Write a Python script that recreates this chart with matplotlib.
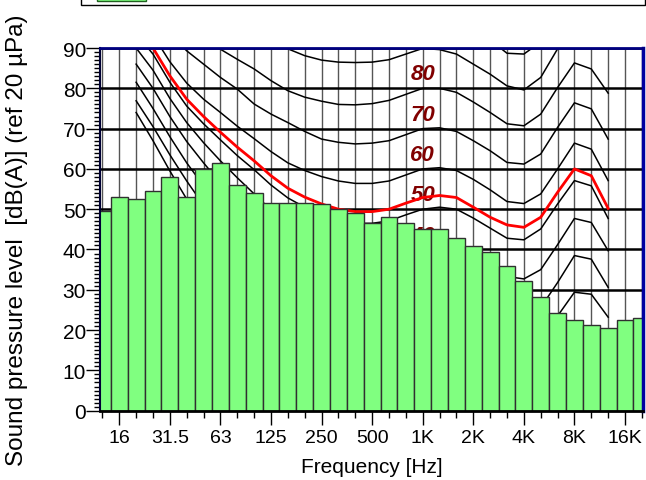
import numpy as np
import matplotlib
matplotlib.use('Agg')
import matplotlib.pyplot as plt
from matplotlib.patches import Rectangle
from matplotlib.ticker import FixedLocator, NullFormatter, MultipleLocator

plt.rcParams['font.family'] = ['Liberation Sans', 'DejaVu Sans']

# third-octave bands and measured spectrum, dB(A)
bands = [12.5, 16, 20, 25, 31.5, 40, 50, 63, 80, 100, 125, 160, 200, 250, 315, 400,
         500, 630, 800, 1000, 1250, 1600, 2000, 2500, 3150, 4000, 5000, 6300, 8000,
         10000, 12500, 16000, 20000]
spl = [49.6, 53.0, 52.6, 54.6, 57.9, 53.0, 59.9, 61.5, 55.9, 53.9, 51.6, 51.6, 51.6,
       51.3, 50.0, 49.0, 46.7, 48.0, 46.7, 45.0, 45.0, 42.8, 40.8, 39.4, 35.8, 32.2,
       28.1, 24.2, 22.4, 21.2, 20.5, 22.5, 22.9]

# equal loudness contours, 20 Hz .. 12.5 kHz
contour_bands = bands[2:31]
c0 = [74.0, 67.0, 59.5, 52.5, 46.0, 40.0, 34.0, 28.5, 23.5, 18.5, 14.0, 10.0, 6.5, 3.5,
      1.5, 0.5, 0.5, 0.0, 1.0, 1.5, 0.5, -1.5, -3.5, -4.0, -1.5, 4.5, 11.0, 11.0, 7.0]
c10 = [76.9, 70.5, 63.5, 57.0, 51.0, 45.5, 40.0, 35.0, 30.0, 25.5, 21.0, 17.0, 13.5, 10.0,
       8.0, 7.8, 9.0, 10.0, 11.0, 11.5, 10.3, 8.0, 5.5, 4.8, 7.3, 13.5, 20.3, 20.0, 15.5]
c20 = [81.5, 75.0, 68.0, 61.5, 55.8, 50.5, 45.5, 41.0, 36.5, 32.5, 28.5, 25.0, 22.0, 19.5,
       17.8, 17.6, 18.8, 20.0, 20.9, 21.0, 19.6, 17.1, 14.3, 13.8, 16.3, 23.5, 29.4, 28.9, 23.2]
c30 = [86.0, 80.0, 73.0, 66.8, 61.5, 56.5, 51.8, 47.5, 43.5, 39.5, 36.0, 33.0, 30.5, 28.5,
       27.3, 27.5, 28.7, 30.0, 30.8, 30.7, 29.0, 26.5, 23.8, 23.1, 25.6, 31.8, 38.5, 37.6, 30.6]
c40 = [90.0, 84.5, 77.5, 71.5, 66.5, 62.0, 57.8, 53.8, 49.8, 46.3, 43.5, 41.0, 39.0, 37.5,
       36.9, 37.3, 38.7, 40.0, 40.7, 40.4, 38.4, 35.9, 33.3, 32.7, 35.0, 41.2, 47.7, 46.7, 39.7]
c50 = [93.5, 88.5, 81.5, 75.6, 71.2, 67.2, 63.3, 59.8, 56.0, 52.8, 50.5, 48.6, 47.3, 46.5,
       46.5, 47.1, 48.6, 50.0, 50.5, 50.0, 47.8, 45.3, 42.8, 42.4, 45.1, 51.3, 57.1, 55.8, 47.7]
c60 = [99.0, 93.2, 86.6, 81.3, 77.3, 74.0, 70.6, 67.5, 64.3, 61.5, 59.6, 58.1, 57.0, 56.4,
       56.4, 57.0, 58.5, 60.0, 60.3, 59.6, 57.4, 54.8, 51.9, 51.4, 53.8, 60.0, 66.4, 64.9, 57.1]
c70 = [103.0, 98.0, 93.5, 89.3, 86.0, 82.7, 79.8, 76.1, 73.6, 71.5, 69.3, 67.4, 66.6, 66.2,
       66.4, 67.0, 68.5, 70.0, 70.2, 69.3, 67.0, 64.5, 61.6, 61.2, 63.7, 70.3, 76.4, 74.9, 67.4]
c80 = [108.0, 104.0, 100.0, 96.5, 93.0, 89.7, 87.2, 84.8, 81.9, 79.4, 77.8, 76.8, 76.0, 75.9,
       76.2, 77.0, 78.5, 80.0, 80.0, 79.0, 76.6, 74.0, 71.2, 70.7, 73.6, 80.2, 86.3, 84.8, 78.8]
c90 = [122.0, 116.0, 110.0, 105.0, 100.5, 97.0, 94.6, 92.4, 90.6, 89.8, 88.1, 87.0, 86.5, 86.4,
       86.5, 87.1, 88.5, 89.9, 89.6, 88.5, 86.0, 83.5, 80.6, 79.6, 82.7, 89.8, 96.3, 95.0, 91.0]
c100 = [130.0, 125.0, 120.0, 115.0, 111.0, 107.5, 104.5, 102.0, 100.0, 98.5, 97.5, 96.8, 96.4,
        96.3, 96.5, 97.1, 98.5, 100.0, 100.0, 98.5, 95.0, 92.0, 88.7, 88.5, 91.5, 99.0, 105.0,
        104.0, 100.0]
contours = [c0, c10, c20, c30, c40, c50, c60, c70, c80, c90, c100]
# loudness contour of the measured sound
red_curve = [97.0, 90.0, 83.1, 77.3, 73.0, 69.1, 65.4, 62.0, 58.3, 55.2, 53.0, 51.3, 50.0, 49.4,
             49.4, 50.0, 51.5, 52.9, 53.4, 52.9, 50.5, 48.0, 46.1, 45.5, 48.0, 54.2, 60.0, 58.3, 50.2]
contour_labels = [40, 50, 60, 70, 80]

tick_freqs = [16, 31.5, 63, 125, 250, 500, 1000, 2000, 4000, 8000, 16000]
tick_labels = ['16', '31.5', '63', '125', '250', '500', '1K', '2K', '4K', '8K', '16K']


def exact(f):
    return 10 ** (np.round(10 * np.log10(f)) / 10)


xc = exact(np.array(bands))
left = xc * 10 ** -0.05
width = xc * 10 ** 0.05 - left
xcont = exact(np.array(contour_bands))

fig = plt.figure(figsize=(6.46, 4.81), dpi=100)
ax = fig.add_axes([0.1548, 0.1441, 0.8406, 0.754])

ax.bar(left, spl, width=width, align='edge', color='#80FF80', edgecolor='#303030',
       linewidth=1, zorder=2)
for c in contours:
    ax.plot(xcont, c, color='black', lw=1.1, zorder=1)
ax.plot(xcont, red_curve, color='#FF0000', lw=2, zorder=1.8)
for lv in contour_labels:
    ax.text(1000, lv + 2.2, str(lv), ha='center', va='baseline', color='#800000',
            fontsize=16, fontweight='bold', style='italic', zorder=1.5)

ax.set_xscale('log')
ax.set_xlim(12.18, 20270)
ax.set_ylim(0, 90)
ax.xaxis.set_major_locator(FixedLocator(exact(np.array(tick_freqs))))
ax.set_xticklabels(tick_labels)
ax.xaxis.set_minor_locator(FixedLocator(xc))
ax.xaxis.set_minor_formatter(NullFormatter())
ax.yaxis.set_major_locator(MultipleLocator(10))
ax.yaxis.set_minor_locator(MultipleLocator(1))

ax.tick_params(axis='x', which='major', length=10, width=1, labelsize=14, pad=3)
ax.tick_params(axis='x', which='minor', length=5, width=1)
ax.tick_params(axis='y', which='major', length=10, width=1, labelsize=15, pad=0)
ax.tick_params(axis='y', which='minor', length=4, width=1)

ax.set_axisbelow(True)
ax.grid(axis='x', which='both', color='#555555', lw=1)
ax.grid(axis='y', which='major', color='black', lw=1.8)

ax.spines['left'].set_color('#000033')
ax.spines['left'].set_linewidth(1.5)
ax.spines['bottom'].set_linewidth(2)
ax.spines['top'].set_color('#000080')
ax.spines['top'].set_linewidth(2)
ax.spines['right'].set_color('#0000A0')
ax.spines['right'].set_linewidth(2.5)
for s in ax.spines.values():
    s.set_zorder(3)

fig.text(0.027, 0.5, 'Sound pressure level  [dB(A)] (ref 20 \u00b5Pa)', rotation=90,
         ha='center', va='center', fontsize=17.5)
fig.text(0.575, 0.029, 'Frequency [Hz]', ha='center', va='center', fontsize=15)

# legend frame cut at the top edge
fig.patches.append(Rectangle((81 / 646, 1 - 6 / 481), 564 / 646, 0.05, transform=fig.transFigure,
                             facecolor='white', edgecolor='black', lw=1))
fig.patches.append(Rectangle((97 / 646, 1 - 2 / 481), 49 / 646, 0.05, transform=fig.transFigure,
                             facecolor='#80FF80', edgecolor='#206020', lw=1))

fig.savefig('out.png', dpi=100)
